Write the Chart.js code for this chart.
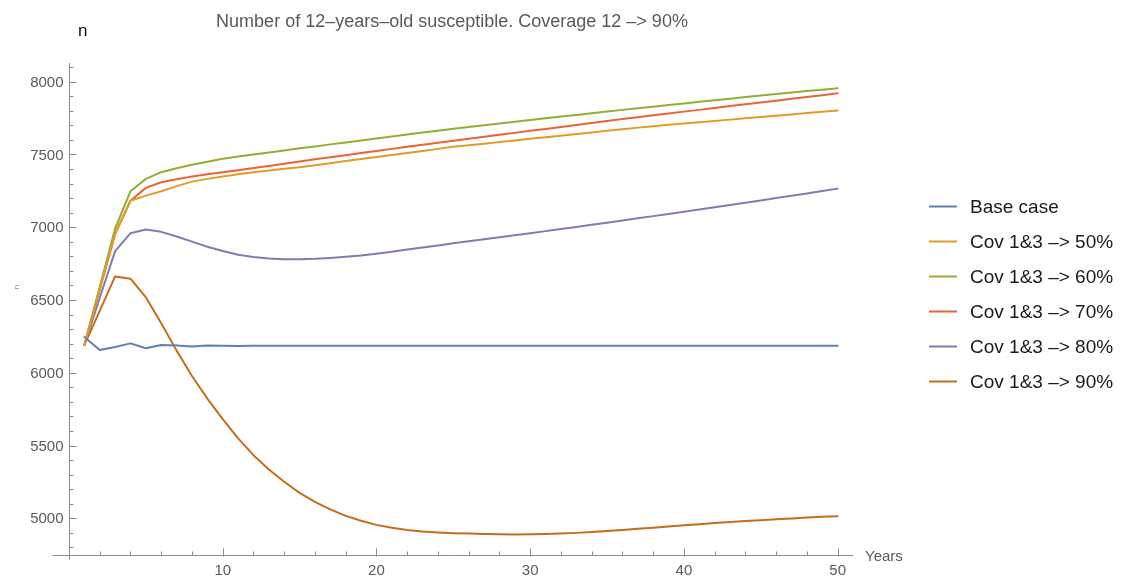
<!DOCTYPE html>
<html>
<head>
<meta charset="utf-8">
<script src="https://cdn.jsdelivr.net/npm/chart.js@4/dist/chart.umd.min.js"></script>
<style>
  html, body { margin: 0; padding: 0; background: #ffffff; }
  #wrap { width: 1123px; height: 578px; }
  canvas { display: block; }
</style>
</head>
<body>
<div id="wrap"><canvas id="c" width="1123" height="578"></canvas></div>
<script>
// ---------- DATA ----------
const chartTitle = "Number of 12\u2013years\u2013old susceptible. Coverage 12 \u2013> 90%";
const xAxisLabel = "Years";
const yAxisLabel = "n";
const seriesNames = ["Base case", "Cov 1&3 \u2013> 50%", "Cov 1&3 \u2013> 60%", "Cov 1&3 \u2013> 70%", "Cov 1&3 \u2013> 80%", "Cov 1&3 \u2013> 90%"];
const seriesColors = ["#5E81B5", "#E19C24", "#8FB032", "#EB6235", "#8778B3", "#C56E1A"];

const years = [1,2,3,4,5,6,7,8,9,10,11,12,13,14,15,16,17,18,19,20,21,22,23,24,25,26,27,28,29,30,31,32,33,34,35,36,37,38,39,40,41,42,43,44,45,46,47,48,49,50];

const baseCase = [6245,6156,6177,6202,6168,6190,6188,6180,6188,6185,6184,6186,6185,6185,6185,6185,6185,6185,6185,6185,6185,6185,6185,6185,6185,6185,6185,6185,6185,6185,6185,6185,6185,6185,6185,6185,6185,6185,6185,6185,6185,6185,6185,6185,6185,6185,6185,6185,6185,6185];
const cov50 = [6190,6575,6960,7182,7217,7247,7282,7313,7332,7348,7363,7378,7390,7401,7412,7426,7440,7454,7468,7482,7496,7510,7524,7538,7552,7563,7574,7585,7596,7607,7618,7629,7640,7651,7662,7673,7684,7694,7703,7712,7721,7730,7739,7748,7757,7766,7775,7784,7793,7801];
const cov60 = [6190,6590,6991,7247,7332,7378,7405,7429,7450,7470,7485,7499,7513,7527,7542,7555,7569,7582,7596,7609,7623,7637,7650,7663,7676,7688,7700,7712,7724,7736,7748,7760,7771,7783,7795,7806,7817,7828,7839,7850,7861,7872,7883,7894,7905,7915,7925,7935,7945,7955];
const cov70 = [6190,6570,6952,7182,7270,7309,7330,7348,7363,7378,7392,7406,7421,7436,7452,7466,7481,7495,7510,7524,7538,7552,7566,7580,7594,7608,7621,7635,7648,7662,7675,7689,7702,7716,7729,7743,7756,7769,7781,7794,7806,7819,7832,7844,7857,7869,7882,7895,7907,7920];
const cov80 = [6190,6515,6836,6959,6984,6968,6936,6901,6866,6836,6811,6795,6785,6780,6780,6783,6789,6797,6806,6818,6832,6846,6860,6875,6889,6903,6917,6931,6945,6959,6973,6988,7002,7016,7031,7046,7061,7076,7091,7106,7121,7137,7152,7168,7184,7200,7216,7232,7248,7265];
const cov90 = [6190,6425,6662,6646,6518,6340,6152,5978,5822,5682,5549,5434,5336,5251,5175,5113,5061,5017,4983,4955,4935,4920,4910,4903,4898,4895,4892,4890,4889,4890,4892,4896,4900,4906,4913,4920,4928,4936,4944,4952,4960,4967,4974,4981,4987,4993,4999,5005,5010,5015];

const xMajorTicks = [10,20,30,40,50];
const xMinorTicks = [2,4,6,8,12,14,16,18,22,24,26,28,32,34,36,38,42,44,46,48];
const yMajorTicks = [5000,5500,6000,6500,7000,7500,8000];
const yMinorTicks = [4800,4900,5100,5200,5300,5400,5600,5700,5800,5900,6100,6200,6300,6400,6600,6700,6800,6900,7100,7200,7300,7400,7600,7700,7800,7900,8100];

const allSeries = [baseCase, cov50, cov60, cov70, cov80, cov90];

// ---------- BUILD ----------
const datasets = allSeries.map((vals, i) => ({
  label: seriesNames[i],
  data: years.map((yr, k) => ({ x: yr, y: vals[k] })),
  borderColor: seriesColors[i],
  backgroundColor: seriesColors[i],
  borderWidth: 2,
  pointRadius: 0,
  tension: 0,
  fill: false
}));

const AXIS_COLOR = "#8c8c8c";
const TICK_TEXT = "#5a5a5a";
const FONT = "'Liberation Sans', Arial, Helvetica, sans-serif";

const axesPlugin = {
  id: 'mmaAxes',
  beforeDatasetsDraw(chart) {
    const ctx = chart.ctx;
    const xs = chart.scales.x, ys = chart.scales.y;
    const x0 = Math.round(xs.getPixelForValue(0)) + 0.5;
    const yb = Math.round(ys.getPixelForValue(ys.min)) + 0.5;
    ctx.save();
    ctx.strokeStyle = AXIS_COLOR;
    ctx.lineWidth = 1;
    // axis lines
    ctx.beginPath();
    ctx.moveTo(x0 - 17, yb);
    ctx.lineTo(xs.getPixelForValue(xs.max), yb);
    ctx.moveTo(x0, ys.getPixelForValue(ys.max));
    ctx.lineTo(x0, yb + 4);
    ctx.stroke();
    // x ticks
    ctx.beginPath();
    xMajorTicks.forEach(v => {
      const p = Math.round(xs.getPixelForValue(v)) + 0.5;
      ctx.moveTo(p, yb + 1); ctx.lineTo(p, yb - 7);
    });
    xMinorTicks.forEach(v => {
      const p = Math.round(xs.getPixelForValue(v)) + 0.5;
      ctx.moveTo(p, yb); ctx.lineTo(p, yb - 4);
    });
    // y ticks
    yMajorTicks.forEach(v => {
      const p = Math.round(ys.getPixelForValue(v)) + 0.5;
      ctx.moveTo(x0, p); ctx.lineTo(x0 + 7, p);
    });
    yMinorTicks.forEach(v => {
      const p = Math.round(ys.getPixelForValue(v)) + 0.5;
      ctx.moveTo(x0, p); ctx.lineTo(x0 + 4, p);
    });
    ctx.stroke();
    // tick labels
    ctx.fillStyle = TICK_TEXT;
    ctx.font = "15px " + FONT;
    ctx.textAlign = "center";
    ctx.textBaseline = "middle";
    xMajorTicks.forEach(v => {
      ctx.fillText(String(v), xs.getPixelForValue(v), yb + 15);
    });
    ctx.textAlign = "right";
    yMajorTicks.forEach(v => {
      ctx.fillText(String(v), x0 - 6, ys.getPixelForValue(v) + 1);
    });
    // axis labels
    ctx.textAlign = "left";
    ctx.fillText(xAxisLabel, 865, yb + 1);
    ctx.restore();
  },
  afterDraw(chart) {
    const ctx = chart.ctx;
    ctx.save();
    // title
    ctx.fillStyle = "#595959";
    ctx.font = "18px " + FONT;
    ctx.textAlign = "center";
    ctx.textBaseline = "alphabetic";
    ctx.fillText(chartTitle, 452, 27);
    // y label
    ctx.fillStyle = "#111111";
    ctx.font = "17px " + FONT;
    ctx.textAlign = "left";
    ctx.fillText(yAxisLabel, 78, 36);
    // tiny rotated label at left
    ctx.save();
    ctx.translate(17, 287);
    ctx.rotate(-Math.PI / 2);
    ctx.fillStyle = "#6a8cc4";
    ctx.font = "8px " + FONT;
    ctx.textAlign = "center";
    ctx.textBaseline = "middle";
    ctx.fillText(yAxisLabel, 0, 0);
    ctx.restore();
    // legend
    ctx.font = "19px " + FONT;
    ctx.textBaseline = "middle";
    chart.data.datasets.forEach((ds, i) => {
      const cy = 206.5 + i * 35;
      ctx.strokeStyle = ds.borderColor;
      ctx.lineWidth = 2;
      ctx.beginPath();
      ctx.moveTo(929, cy); ctx.lineTo(957, cy);
      ctx.stroke();
      ctx.fillStyle = "#1a1a1a";
      ctx.fillText(ds.label, 970, cy + 1);
    });
    ctx.restore();
  }
};

new Chart(document.getElementById('c'), {
  type: 'line',
  data: { datasets },
  options: {
    responsive: false,
    devicePixelRatio: 1,
    animation: false,
    layout: { padding: { left: 69, right: 270, top: 63, bottom: 23 } },
    plugins: { legend: { display: false }, tooltip: { enabled: false }, title: { display: false } },
    scales: {
      x: { type: 'linear', min: 0, max: 51, display: false },
      y: { type: 'linear', min: 4748, max: 8128, display: false }
    },
    elements: { line: { borderJoinStyle: 'round', borderCapStyle: 'round' } }
  },
  plugins: [axesPlugin]
});
</script>
</body>
</html>
